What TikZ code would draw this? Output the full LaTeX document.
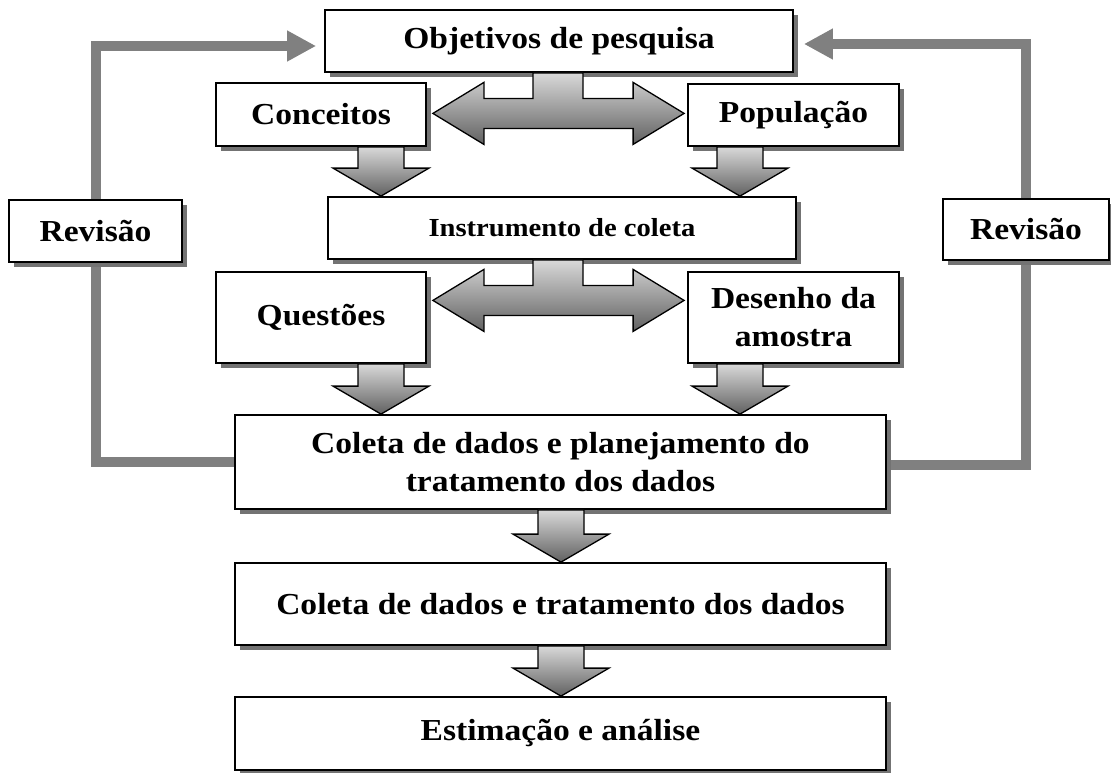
\documentclass[tikz,border=0pt]{standalone}
\usepackage{fontspec}
\setmainfont{Liberation Serif}[FakeStretch=1.1]
\usetikzlibrary{shadows,backgrounds,arrows.meta,calc}

\newcommand\blockdown[3]{%
  \path[blockarrow] let \p1=(#1 |- #2.south), \p2=(#1 |- #3.north) in
    (\x1-23pt,\y1) -- (\x1+23pt,\y1) -- (\x1+23pt,\y2+28pt) -- (\x1+48pt,\y2+28pt)
    -- (\x1,\y2) -- (\x1-48pt,\y2+28pt) -- (\x1-23pt,\y2+28pt) -- cycle;}

\newcommand\blockdouble[4]{%
  \path[blockarrow] let \p1=(#1 |- #2.south), \p2=(#3.east), \p3=(#4.west) in
    (\x1-25pt,\y1) -- (\x1+25pt,\y1) -- (\x1+25pt,\y1-25.5pt)
    -- (\x3-54pt,\y1-25.5pt) -- (\x3-54pt,\y1-9.5pt) -- (\x3-3pt,\y1-40.5pt)
    -- (\x3-54pt,\y1-71.5pt) -- (\x3-54pt,\y1-55.5pt)
    -- (\x2+57pt,\y1-55.5pt) -- (\x2+57pt,\y1-71.5pt) -- (\x2+6pt,\y1-40.5pt)
    -- (\x2+57pt,\y1-9.5pt) -- (\x2+57pt,\y1-25.5pt) -- (\x1-25pt,\y1-25.5pt) -- cycle;}

\begin{document}
\begin{tikzpicture}[x=1pt,y=-1pt,
  box/.style={draw=black, line width=1.8pt, fill=white, rectangle, inner sep=0pt,
    align=center, font=\fontsize{30.5}{38}\selectfont\bfseries,
    general shadow={fill=black!55, shadow xshift=5pt, shadow yshift=-5pt}},
  smalltext/.style={font=\fontsize{26}{32}\selectfont\bfseries},
  blockarrow/.style={draw=black, line width=1.3pt, line join=miter,
    top color=black!15, bottom color=black!62},
  revline/.style={draw=black!50, line width=10pt},
  revtip/.style={-{Triangle[length=29pt,width=29pt]}},
]
\useasboundingbox (0,0) rectangle (1111,772);

\node[box, minimum width=468pt, minimum height=62pt] (obj) at (559,41) {Objetivos de pesquisa};
\node[box, minimum width=210pt, minimum height=63pt] (conc) at (321,114.5) {Conceitos};
\node[box, minimum width=211pt, minimum height=62pt] (pop) at (793.5,115) {População};
\node[box, smalltext, minimum width=468pt, minimum height=62pt] (inst) at (562,228) {Instrumento de coleta};
\node[box, minimum width=210pt, minimum height=91pt] (ques) at (321,317.5) {Questões};
\node[box, minimum width=211pt, minimum height=91pt] (des) at (793.5,317.5) {Desenho da\\amostra};
\node[box, minimum width=651pt, minimum height=94pt] (plan) at (560.5,462) {Coleta de dados e planejamento do\\tratamento dos dados};
\node[box, minimum width=651pt, minimum height=82pt] (trat) at (560.5,604) {Coleta de dados e tratamento dos dados};
\node[box, minimum width=651pt, minimum height=73pt] (est) at (560.5,733.5) {Estimação e análise};
\node[box, minimum width=173pt, minimum height=62pt] (revL) at (95.5,231) {Revisão};
\node[box, minimum width=166pt, minimum height=61pt] (revR) at (1026,229.5) {Revisão};

\coordinate (xL) at (381,0);
\coordinate (xR) at (740,0);
\coordinate (xM) at (561,0);
\coordinate (xS) at (558,0);

\begin{scope}[on background layer]
\draw[revline, revtip, shorten >=8pt] (plan.west) -| (revL.center) |- ($(obj.west)+(0,5)$);
\draw[revline, revtip, shorten >=10pt] ($(plan.east)+(0,3)$) -| (revR.center) |- ($(obj.east)+(0,3)$);
\end{scope}

\blockdouble{xS}{obj}{conc}{pop}
\blockdouble{xS}{inst}{ques}{des}
\blockdown{xL}{conc}{inst}
\blockdown{xR}{pop}{inst}
\blockdown{xL}{ques}{plan}
\blockdown{xR}{des}{plan}
\blockdown{xM}{plan}{trat}
\blockdown{xM}{trat}{est}
\end{tikzpicture}
\end{document}
